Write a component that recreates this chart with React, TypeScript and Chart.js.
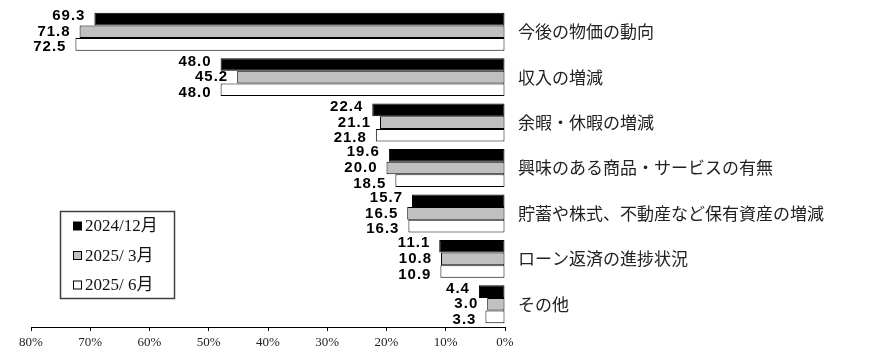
import React, { useEffect, useRef } from "react";
import { Chart, registerables } from "chart.js";

Chart.register(...registerables);

const categories = [
  "今後の物価の動向",
  "収入の増減",
  "余暇・休暇の増減",
  "興味のある商品・サービスの有無",
  "貯蓄や株式、不動産など保有資産の増減",
  "ローン返済の進捗状況",
  "その他",
];
const seriesLabels = ["2024/12月", "2025/ 3月", "2025/ 6月"];
const dec2024 = [69.3, 48.0, 22.4, 19.6, 15.7, 11.1, 4.4];
const mar2025 = [71.8, 45.2, 21.1, 20.0, 16.5, 10.8, 3.0];
const jun2025 = [72.5, 48.0, 21.8, 18.5, 16.3, 10.9, 3.3];
const xTicks = [0, 10, 20, 30, 40, 50, 60, 70, 80];

const fills = ["#000000", "#c0c0c0", "#ffffff"];

const valueLabelPlugin = {
  id: "valueLabels",
  afterDatasetsDraw(chart: any) {
    const ctx = chart.ctx;
    ctx.save();
    ctx.font = 'bold 15px "Liberation Sans", Arial, sans-serif';
    try {
      ctx.letterSpacing = "1px";
    } catch (e) {}
    ctx.fillStyle = "#000";
    ctx.textAlign = "right";
    ctx.textBaseline = "middle";
    const shifts = [-3, 0, 3];
    chart.data.datasets.forEach((ds: any, di: number) => {
      const meta = chart.getDatasetMeta(di);
      meta.data.forEach((el: any, i: number) => {
        const v = ds.data[i];
        ctx.fillText(v.toFixed(1), el.x - 9, el.y + shifts[di]);
      });
    });
    ctx.restore();
  },
};

const legendPlugin = {
  id: "boxLegend",
  afterDraw(chart: any) {
    const ctx = chart.ctx;
    ctx.save();
    ctx.strokeStyle = "#404040";
    ctx.lineWidth = 1.5;
    ctx.strokeRect(60.5, 211.5, 114, 87);
    ctx.font = '17px "Liberation Serif", "Noto Sans CJK JP", serif';
    ctx.textBaseline = "middle";
    ctx.textAlign = "left";
    chart.data.datasets.forEach((ds: any, i: number) => {
      const y = 226 + i * 29.5;
      ctx.fillStyle = fills[i];
      ctx.fillRect(73.5, y - 4, 8, 8);
      ctx.strokeStyle = "#000";
      ctx.lineWidth = 1;
      ctx.strokeRect(73.5, y - 4, 8, 8);
      ctx.fillStyle = "#111";
      ctx.fillText(ds.label, 85, y + 1);
    });
    ctx.restore();
  },
};

export default function App() {
  const ref = useRef<HTMLCanvasElement | null>(null);
  useEffect(() => {
    if (!ref.current) return;
    const chart = new Chart(ref.current, {
      type: "bar",
      data: {
        labels: categories,
        datasets: [dec2024, mar2025, jun2025].map((d, i) => ({
          label: seriesLabels[i],
          data: d,
          backgroundColor: fills[i],
          borderColor: "#000",
          borderWidth: 1,
          borderSkipped: false,
          categoryPercentage: 0.835,
          barPercentage: 1.0,
        })),
      },
      options: {
        indexAxis: "y",
        animation: false,
        responsive: false,
        maintainAspectRatio: false,
        layout: { padding: { left: 31, top: 9, right: 0, bottom: 0 } },
        plugins: {
          legend: { display: false },
          tooltip: { enabled: false },
        },
        scales: {
          x: {
            reverse: true,
            min: 0,
            max: 80,
            afterBuildTicks: (axis: any) => {
              axis.ticks = xTicks.map((v) => ({ value: v }));
            },
            afterFit: (axis: any) => {
              axis.height = 29;
              axis.paddingLeft = 0;
              axis.paddingRight = 0;
            },
            grid: {
              drawOnChartArea: false,
              drawTicks: true,
              tickLength: 4,
              color: "#000",
            },
            border: { display: true, color: "#000", width: 1 },
            ticks: {
              padding: 4,
              maxRotation: 0,
              color: "#222",
              font: { family: '"Liberation Serif", serif', size: 13 },
              callback: (v: any) => v + "%",
            },
          },
          y: {
            position: "right",
            afterFit: (axis: any) => {
              axis.width = 364;
              axis.paddingTop = 0;
              axis.paddingBottom = 0;
            },
            grid: { display: false, drawTicks: false },
            border: { display: false },
            ticks: {
              crossAlign: "near",
              padding: 13,
              color: "#222",
              font: { family: '"Noto Sans CJK JP", sans-serif', size: 17 },
            },
          },
        },
      },
      plugins: [valueLabelPlugin, legendPlugin],
    });
    return () => chart.destroy();
  }, []);
  return (
    <div style={{ position: "fixed", left: 0, top: 0, width: 869, height: 356, background: "#fff" }}>
      <canvas ref={ref} width={869} height={356} style={{ width: 869, height: 356 }} />
    </div>
  );
}
